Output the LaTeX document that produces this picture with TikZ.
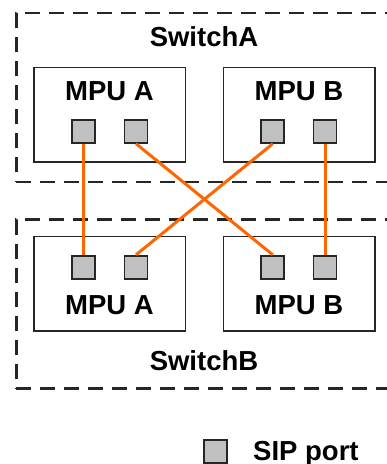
\documentclass[tikz,border=0pt]{standalone}
\usepackage{fontspec}
\setmainfont{Liberation Sans}
\definecolor{linkorange}{RGB}{255,102,0}
\definecolor{portgray}{RGB}{192,192,192}
\definecolor{edgegray}{RGB}{38,38,38}
\tikzset{
  switchbox/.style={rectangle, draw=edgegray, line width=2.6pt, dash pattern=on 15pt off 9pt, minimum width=383.5pt, minimum height=169pt, inner sep=0pt},
  mpubox/.style={rectangle, draw=edgegray, line width=1.5pt, minimum width=151.5pt, minimum height=94.5pt, inner sep=0pt},
  sipport/.style={rectangle, draw=edgegray, line width=1.8pt, fill=portgray, minimum size=23pt, inner sep=0pt},
  link/.style={draw=linkorange, line width=3pt},
  lbl/.style={inner sep=0pt, anchor=base, font=\fontsize{27.5}{33}\selectfont\bfseries}
}
\begin{document}
\begin{tikzpicture}[x=1pt, y=-1pt]
  \useasboundingbox (0,0) rectangle (387,464);

  % SwitchA
  \node[switchbox] (swA) at (208,97.5) {};
  \node[lbl] (swAtext) at (204,46) {SwitchA};
  \node[mpubox] (mpuA1) at (109.8,114.7) {};
  \node[mpubox] (mpuB1) at (299,114.7) {};
  \node[lbl] (mpuA1text) at (109.5,100.7) {MPU A};
  \node[lbl] (mpuB1text) at (299,100.7) {MPU B};

  % SwitchB
  \node[switchbox] (swB) at (208,304) {};
  \node[lbl] (swBtext) at (204,370) {SwitchB};
  \node[mpubox] (mpuA2) at (109.8,283.7) {};
  \node[mpubox] (mpuB2) at (299,283.7) {};
  \node[lbl] (mpuA2text) at (109.5,314.3) {MPU A};
  \node[lbl] (mpuB2text) at (299,314.3) {MPU B};

  % SIP ports
  \node[sipport] (pA11) at (83.5,131.3) {};
  \node[sipport] (pA12) at (136,131.3) {};
  \node[sipport] (pB11) at (272.8,131.3) {};
  \node[sipport] (pB12) at (325,131.3) {};
  \node[sipport] (pA21) at (83.5,267.2) {};
  \node[sipport] (pA22) at (136,267.2) {};
  \node[sipport] (pB21) at (272.8,267.2) {};
  \node[sipport] (pB22) at (325,267.2) {};

  \draw[link] (pA11.south) -- (pA21.north);
  \draw[link] (pA12.south) -- (pB21.north);
  \draw[link] (pB11.south) -- (pA22.north);
  \draw[link] (pB12.south) -- (pB22.north);

  % legend
  \node[sipport] (legport) at (215.8,451.5) {};
  \node[lbl, anchor=base west] (legtext) at (253,460) {SIP port};
\end{tikzpicture}
\end{document}
